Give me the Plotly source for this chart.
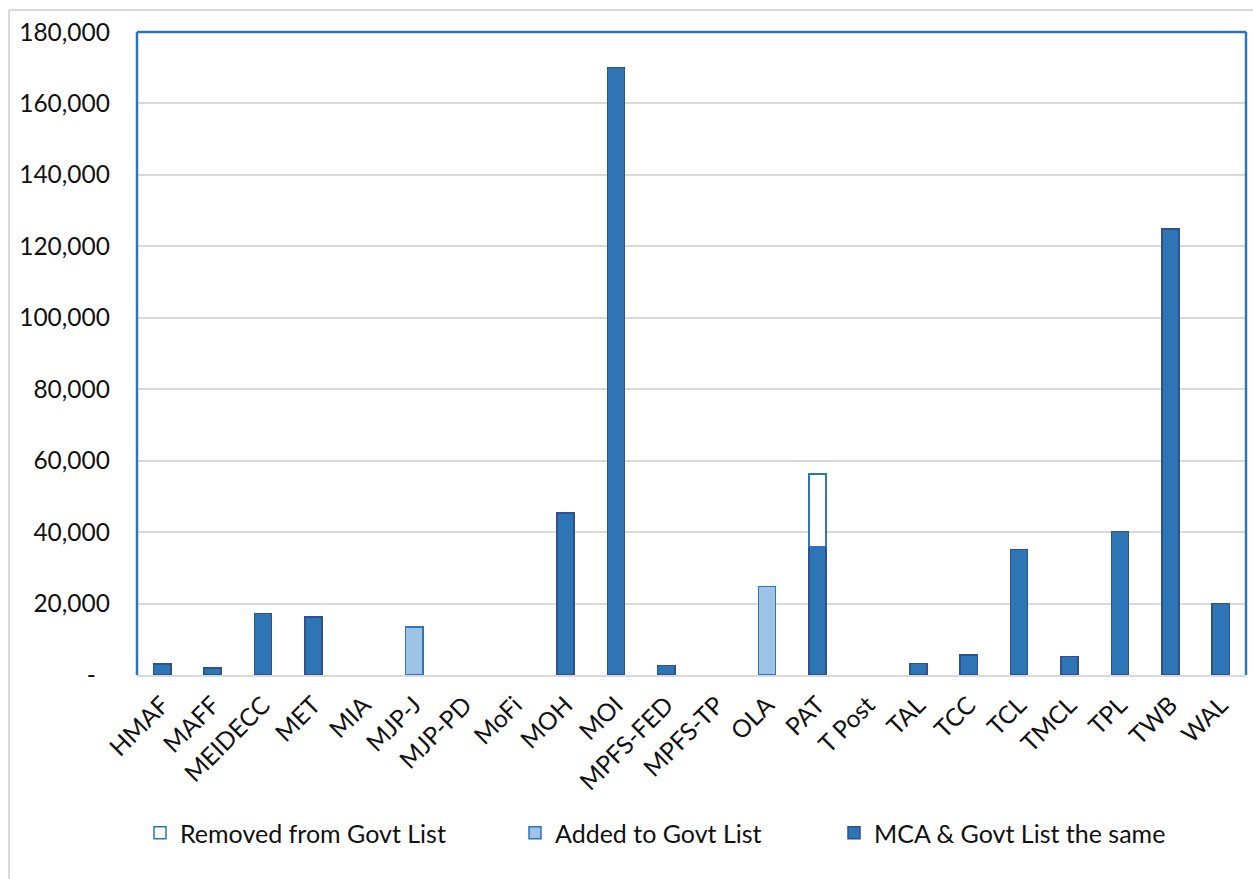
import plotly.graph_objects as go

# Categories along the x axis
categories = ["HMAF", "MAFF", "MEIDECC", "MET", "MIA", "MJP-J", "MJP-PD", "MoFi",
              "MOH", "MOI", "MPFS-FED", "MPFS-TP", "OLA", "PAT", "T Post", "TAL",
              "TCC", "TCL", "TMCL", "TPL", "TWB", "WAL"]

# Series values (None = no bar)
same_vals = [3100, 1900, 17200, 16300, None, None, None, None,
             45300, 170000, 2700, None, None, 36000, None, 3200,
             5600, 35100, 5200, 40200, 124800, 20000]
added_vals = [None, None, None, None, None, 13500, None, None,
              None, None, None, None, 24800, None, None, None,
              None, None, None, None, None, None]
removed_vals = [None, None, None, None, None, None, None, None,
                None, None, None, None, None, 20300, None, None,
                None, None, None, None, None, None]

series_names = ["Removed from Govt List", "Added to Govt List", "MCA & Govt List the same"]

# Y axis ticks
y_tick_vals = [0, 20000, 40000, 60000, 80000, 100000, 120000, 140000, 160000, 180000]
y_tick_text = ["-\u2007", "20,000", "40,000", "60,000", "80,000", "100,000",
               "120,000", "140,000", "160,000", "180,000"]

FONT = "Lato"
BLUE = "#2E75B6"
DARK = "#2F528F"
LIGHT = "#9DC3E6"
GRID = "#D9D9D9"
TEXT = "#111111"

fig = go.Figure()

fig.add_trace(go.Bar(
    x=categories, y=same_vals, name=series_names[2],
    marker=dict(color=BLUE, line=dict(color=DARK, width=1.5)),
    legend="legend3",
))
fig.add_trace(go.Bar(
    x=categories, y=removed_vals, name=series_names[0],
    marker=dict(color="white", line=dict(color=BLUE, width=1.5)),
    legend="legend",
))
fig.add_trace(go.Bar(
    x=categories, y=added_vals, name=series_names[1],
    marker=dict(color=LIGHT, line=dict(color=BLUE, width=1.5)),
    legend="legend2",
))

L, R, T, B = 137, 7, 32, 204
W, H = 1253, 879
pw = W - L - R
ph = H - T - B

def px_x(p):
    return (p - L) / pw

def px_y(p):
    return (H - B - p) / ph

legend_common = dict(
    orientation="h", yanchor="middle", xanchor="left",
    font=dict(family=FONT, size=25, color=TEXT),
    bgcolor="rgba(0,0,0,0)", borderwidth=0,
)

fig.update_layout(
    width=W, height=H,
    margin=dict(l=L, r=R, t=T, b=B),
    paper_bgcolor="white", plot_bgcolor="white",
    barmode="stack", bargap=0.66,
    font=dict(family=FONT, size=24, color=TEXT),
    showlegend=True,
    legend=dict(x=px_x(140), y=px_y(833), **legend_common),
    legend2=dict(x=px_x(515), y=px_y(833), **legend_common),
    legend3=dict(x=px_x(834), y=px_y(833), **legend_common),
    xaxis=dict(
        tickangle=-45, showgrid=False, showline=True, linecolor=GRID, linewidth=2,
        ticks="", tickfont=dict(family=FONT, size=24.5, color=TEXT),
        ticklabelstandoff=4,
        zeroline=False,
    ),
    yaxis=dict(
        range=[0, 180000], tickvals=y_tick_vals, ticktext=y_tick_text,
        showgrid=True, gridcolor=GRID, gridwidth=2,
        zeroline=False, showline=False, ticks="",
        ticklabelstandoff=26,
        tickfont=dict(family=FONT, size=24.5, color=TEXT),
    ),
    shapes=[
        # plot frame (left, top, right)
        dict(type="line", xref="paper", yref="paper", x0=0, x1=0, y0=0, y1=1,
             line=dict(color=BLUE, width=2.5)),
        dict(type="line", xref="paper", yref="paper", x0=0, x1=1, y0=1, y1=1,
             line=dict(color=BLUE, width=2.5)),
        dict(type="line", xref="paper", yref="paper", x0=1, x1=1, y0=0, y1=1,
             line=dict(color=BLUE, width=2.5)),
        # outer chart border
        dict(type="line", xref="paper", yref="paper", x0=px_x(9), x1=px_x(9),
             y0=px_y(10), y1=px_y(H + 20), line=dict(color=GRID, width=2)),
        dict(type="line", xref="paper", yref="paper", x0=px_x(9), x1=px_x(W + 20),
             y0=px_y(10), y1=px_y(10), line=dict(color=GRID, width=2)),
    ],
)

fig.write_html("out.html")
